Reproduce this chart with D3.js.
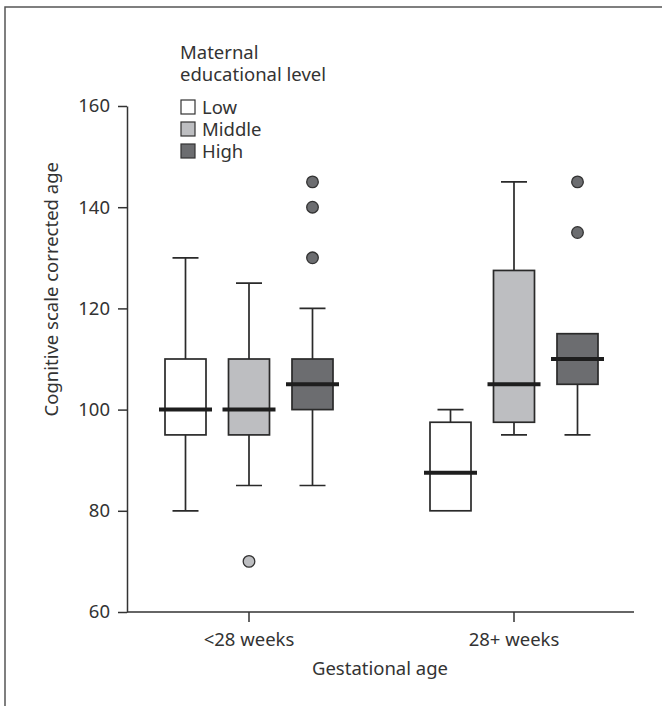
<!DOCTYPE html>
<html>
<head>
<meta charset="utf-8">
<script src="https://cdn.jsdelivr.net/npm/d3@7"></script>
<style>
	body { margin: 0; background: #fff; }
	text { font-family: "Noto Sans", "Open Sans", sans-serif; fill: #333; }
</style>
</head>
<body>
<div id="chart"></div>
<script>
// groups on the x axis and the three education levels
var groups = ['<28 weeks', '28+ weeks'];
var levels = ['Low', 'Middle', 'High'];
var levelFill = ['#ffffff', '#bdbec1', '#6c6d70'];

// box stats per group, in level order: [min, q1, median, q3, max]
var statsLow    = [[80, 95, 100, 110, 130], [80, 80, 87.5, 97.5, 100]];
var statsMiddle = [[85, 95, 100, 110, 125], [95, 97.5, 105, 127.5, 145]];
var statsHigh   = [[85, 100, 105, 110, 120], [95, 105, 110, 115, 115]];

// outliers per group
var outLow    = [[], []];
var outMiddle = [[70], []];
var outHigh   = [[130, 140, 145], [135, 145]];

var yTicks = [60, 80, 100, 120, 140, 160];

var width = 662, height = 706;
var fontSize = 18.5;

var svg = d3.select('#chart').append('svg')
	.attr('width', width)
	.attr('height', height);

// frame
svg.append('path')
	.attr('d', 'M5 706 L5 7 L662 7')
	.attr('fill', 'none')
	.attr('stroke', '#555')
	.attr('stroke-width', 1.5);

var y = d3.scaleLinear().domain([60, 160]).range([612, 106]);

var xGroup = d3.scaleBand().domain(groups).range([116.5, 646.5]);
var xLevel = d3.scaleBand().domain(levels).range([-95.25, 95.25]);

var boxWidth = 41, capWidth = 26, medianOver = 6;

function cx(g, l) {
	return xGroup(g) + xGroup.bandwidth() / 2 + xLevel(l) + xLevel.bandwidth() / 2;
}

// axes
var yAxis = svg.append('g')
	.attr('transform', 'translate(127,0)')
	.call(d3.axisLeft(y).tickValues(yTicks).tickSize(9).tickPadding(8).tickSizeOuter(0));

var xAxis = svg.append('g')
	.attr('transform', 'translate(0,612)')
	.call(d3.axisBottom(xGroup).tickSize(10).tickPadding(11).tickSizeOuter(0));
xAxis.select('.domain').attr('d', 'M127 0 H634');

[yAxis, xAxis].forEach(function(a) {
	a.selectAll('path, line').attr('stroke', '#333').attr('stroke-width', 1.5);
	a.selectAll('text').attr('font-size', fontSize).attr('fill', '#333')
		.style('font-family', '"Noto Sans", sans-serif');
});

svg.append('text')
	.attr('x', 380).attr('y', 675)
	.attr('text-anchor', 'middle')
	.attr('font-size', fontSize)
	.text('Gestational age');

svg.append('text')
	.attr('transform', 'translate(58,162) rotate(-90)')
	.attr('text-anchor', 'end')
	.attr('font-size', fontSize)
	.text('Cognitive scale corrected age');

// build flat box list
var allStats = [statsLow, statsMiddle, statsHigh];
var allOut = [outLow, outMiddle, outHigh];
var boxes = [];
groups.forEach(function(g, gi) {
	levels.forEach(function(l, li) {
		var s = allStats[li][gi];
		boxes.push({ group: g, level: l, fill: levelFill[li],
			min: s[0], q1: s[1], med: s[2], q3: s[3], max: s[4],
			out: allOut[li][gi] });
	});
});

var box = svg.selectAll('g.box')
	.data(boxes)
	.enter().append('g')
	.classed('box', true)
	.attr('transform', function(d) { return 'translate(' + cx(d.group, d.level) + ',0)'; });

// whiskers
box.append('path')
	.attr('d', function(d) {
		var p = '';
		if (d.max > d.q3) {
			p += 'M0 ' + y(d.q3) + ' V' + y(d.max) +
				' M' + (-capWidth / 2) + ' ' + y(d.max) + ' H' + (capWidth / 2);
		}
		if (d.min < d.q1) {
			p += ' M0 ' + y(d.q1) + ' V' + y(d.min) +
				' M' + (-capWidth / 2) + ' ' + y(d.min) + ' H' + (capWidth / 2);
		}
		return p;
	})
	.attr('fill', 'none')
	.attr('stroke', '#2a2a2a')
	.attr('stroke-width', 1.7);

box.append('rect')
	.attr('x', -boxWidth / 2)
	.attr('width', boxWidth)
	.attr('y', function(d) { return y(d.q3); })
	.attr('height', function(d) { return y(d.q1) - y(d.q3); })
	.attr('fill', function(d) { return d.fill; })
	.attr('stroke', '#2a2a2a')
	.attr('stroke-width', 1.7);

box.append('line')
	.attr('x1', -boxWidth / 2 - medianOver)
	.attr('x2', boxWidth / 2 + medianOver)
	.attr('y1', function(d) { return y(d.med); })
	.attr('y2', function(d) { return y(d.med); })
	.attr('stroke', '#1e1e1e')
	.attr('stroke-width', 4);

box.selectAll('circle')
	.data(function(d) { return d.out.map(function(v) { return { v: v, fill: d.fill }; }); })
	.enter().append('circle')
	.attr('cx', 0)
	.attr('cy', function(d) { return y(d.v); })
	.attr('r', 5.8)
	.attr('fill', function(d) { return d.fill; })
	.attr('stroke', '#333')
	.attr('stroke-width', 1.3);

// legend
var legend = svg.append('g').attr('transform', 'translate(180,0)');
legend.append('text').attr('x', 0).attr('y', 59).attr('font-size', fontSize).text('Maternal');
legend.append('text').attr('x', 0).attr('y', 81).attr('font-size', fontSize).text('educational level');

var item = legend.selectAll('g.item')
	.data(levels)
	.enter().append('g')
	.classed('item', true)
	.attr('transform', function(d, i) { return 'translate(0,' + (100 + i * 22) + ')'; });
item.append('rect')
	.attr('x', 1).attr('y', 0)
	.attr('width', 14).attr('height', 14)
	.attr('fill', function(d, i) { return levelFill[i]; })
	.attr('stroke', '#333')
	.attr('stroke-width', 1.2);
item.append('text')
	.attr('x', 22).attr('y', 14)
	.attr('font-size', fontSize)
	.text(function(d) { return d; });
</script>
</body>
</html>
